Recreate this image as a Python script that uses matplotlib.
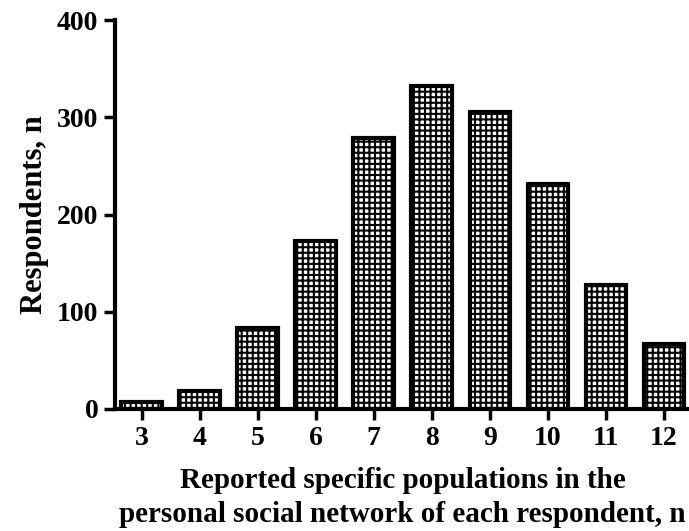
import matplotlib.pyplot as plt

plt.rcParams["font.family"] = ["Liberation Serif", "DejaVu Serif"]
plt.rcParams["font.weight"] = "bold"
plt.rcParams["hatch.linewidth"] = 1.5

populations = [3, 4, 5, 6, 7, 8, 9, 10, 11, 12]
respondents = [7, 18, 83, 173, 279, 332, 305, 231, 128, 67]

fig = plt.figure(figsize=(6.89, 5.31), dpi=100)
ax = fig.add_axes([115 / 689, 1 - 409 / 531, 575 / 689, 389 / 531])

ax.bar(populations, respondents, width=0.7, color="white", edgecolor="black",
       linewidth=3, hatch="+++")

ax.set_xlim(2.54, 12.45)
ax.set_ylim(0, 400)
ax.set_xticks(populations)
ax.set_yticks([0, 100, 200, 300, 400])
ax.spines["top"].set_visible(False)
ax.spines["right"].set_visible(False)
ax.spines["left"].set_linewidth(3)
ax.spines["bottom"].set_linewidth(3)
ax.tick_params(direction="out", length=8, width=2.5, labelsize=20, pad=4)
for lab in ax.get_xticklabels() + ax.get_yticklabels():
    lab.set_fontweight("bold")

ax.set_ylabel("Respondents, n", fontsize=22, fontweight="bold", labelpad=6)
ax.set_xlabel("Reported specific populations in the\npersonal social network of each respondent, n",
              fontsize=21, fontweight="bold", labelpad=12, linespacing=1.3)

fig.savefig("out.png", dpi=100)
